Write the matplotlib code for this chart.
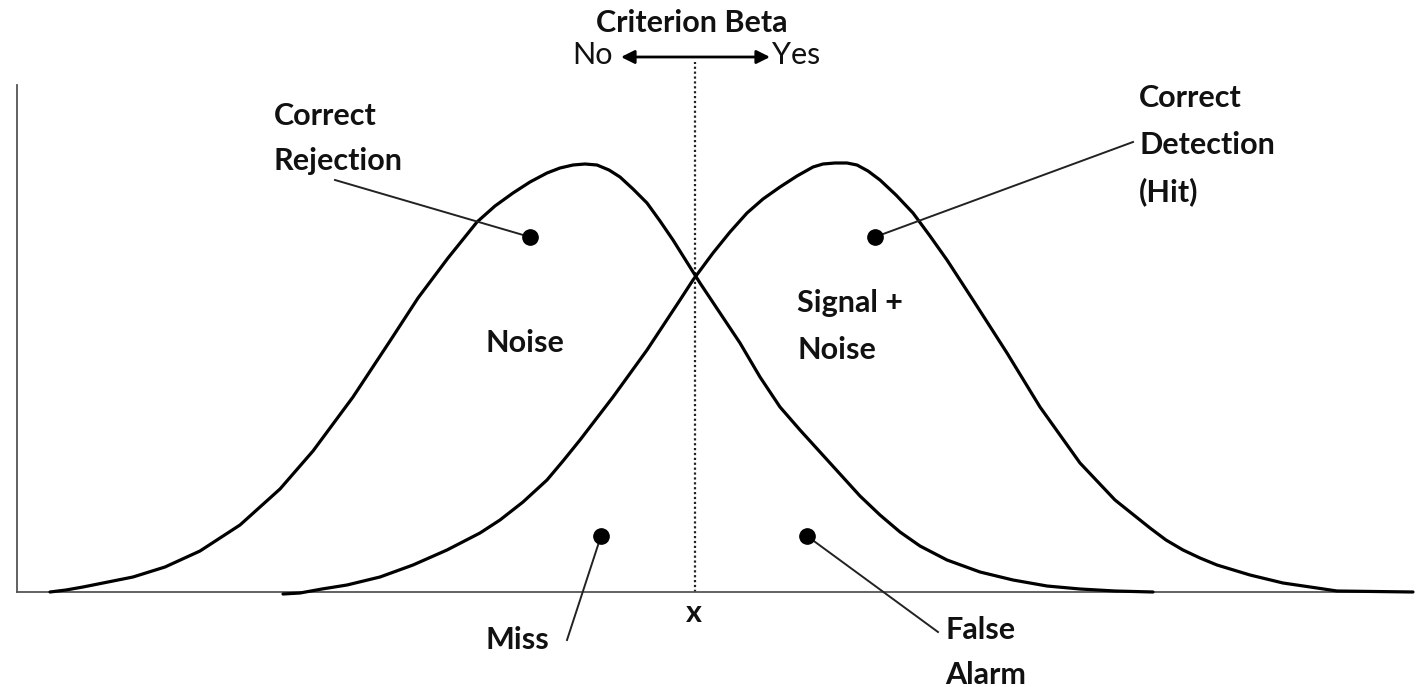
import matplotlib
matplotlib.use("Agg")
import matplotlib.pyplot as plt

# ---- data: x = stimulus strength, y = probability density (arbitrary units)
noise_x = [33, 49, 66, 91, 116, 148, 183, 223, 263, 296, 336, 373, 401, 431, 460, 478, 496, 513,
           530, 543, 556, 568, 580, 592, 603, 616, 630, 643, 656, 683, 703, 723, 743, 763, 783,
           803, 823, 843, 863, 883, 903, 930, 963, 996, 1030, 1063, 1098, 1136]
noise_y = [0, 2, 5, 10, 15, 25, 41, 67, 103, 141, 195, 251, 294, 334, 370, 386, 399, 410,
           419, 424, 427, 428, 427, 422, 415, 403, 389, 371, 352, 309, 279, 249, 215, 185, 162,
           140, 118, 96, 77, 60, 46, 32, 20, 12, 6, 3, 1, 0]
signal_x = [266, 283, 305, 330, 363, 396, 430, 463, 483, 506, 530, 546, 563, 596, 630, 663, 676,
            696, 713, 730, 746, 763, 780, 796, 806, 818, 830, 840, 851, 863, 879, 896, 913, 930,
            956, 990, 1023, 1063, 1098, 1133, 1149, 1166, 1183, 1200, 1233, 1266, 1300, 1320, 1396]
signal_y = [-2, -1, 3, 7, 15, 27, 42, 59, 72, 90, 112, 131, 152, 195, 242, 292, 312,
            339, 360, 379, 393, 405, 416, 425, 428, 429, 429, 427, 421, 412, 397, 379, 356, 332,
            292, 239, 185, 129, 92, 64, 52, 42, 34, 27, 17, 9, 4, 1, 0]
criterion_x = 678
x_max = 1396
y_max = 507

# ---- figure
W, H = 1422, 687
fig = plt.figure(figsize=(W / 100, H / 100), dpi=100)
ox, oy = 17, 592  # pixel position of the axes origin
ax = fig.add_axes([ox / W, (H - oy) / H, x_max / W, y_max / H])
ax.set_xlim(0, x_max)
ax.set_ylim(0, y_max)
for s in ("top", "right"):
    ax.spines[s].set_visible(False)
for s in ("left", "bottom"):
    ax.spines[s].set_color("#555555")
    ax.spines[s].set_linewidth(1.3)
ax.set_xticks([])
ax.set_yticks([])


def P(px, py):
    return (px - ox, oy - py)


for xs, ys in ((noise_x, noise_y), (signal_x, signal_y)):
    ax.plot(xs, ys, color="black", lw=2.3, solid_capstyle="round", solid_joinstyle="round",
            clip_on=False, zorder=3)

# criterion line
ax.plot([criterion_x, criterion_x], [0, oy - 62], color="#222222", lw=1.6,
        linestyle=(0, (1, 1.2)), clip_on=False, zorder=2)

FAM = ["Lato", "DejaVu Sans"]
FS = 22
bold = dict(fontsize=FS, fontweight="bold", family=FAM, color="#111111")
norm = dict(fontsize=FS, fontweight="normal", family=FAM, color="#111111")


def txt(px, py, s, ha="left", **kw):
    x, y = P(px, py)
    ax.text(x, y, s, ha=ha, va="center", clip_on=False, **kw)


txt(692, 23, "Criterion Beta", ha="center", **bold)
txt(572, 55, "No", **norm)
txt(772, 55, "Yes", **norm)
ax.annotate("", xy=P(621, 57), xytext=P(770, 57),
            arrowprops=dict(arrowstyle="<|-|>", color="black", lw=2, mutation_scale=20,
                            shrinkA=0, shrinkB=0), annotation_clip=False)

txt(274, 116, "Correct", **bold)
txt(274, 161, "Rejection", **bold)
txt(1139, 98, "Correct", **bold)
txt(1139, 145, "Detection", **bold)
txt(1139, 192, "(Hit)", **bold)
txt(486, 343, "Noise", **bold)
txt(797, 303, "Signal +", **bold)
txt(797, 350, "Noise", **bold)
txt(486, 640, "Miss", **bold)
txt(694, 613, "x", ha="center", **bold)
txt(945, 630, "False", **bold)
txt(945, 675, "Alarm", **bold)

# leader lines with dots
leaders = [((335, 180), (530, 237)), ((1133, 142), (875, 237)),
           ((567, 640), (601, 536)), ((938, 632), (807, 536))]
for (a, b) in leaders:
    pa, pb = P(*a), P(*b)
    ax.plot([pa[0], pb[0]], [pa[1], pb[1]], color="#222222", lw=1.4, clip_on=False, zorder=4)
    ax.plot([pb[0]], [pb[1]], "o", color="black", ms=11, clip_on=False, zorder=5)

fig.savefig("out.png", dpi=100, facecolor="white")
